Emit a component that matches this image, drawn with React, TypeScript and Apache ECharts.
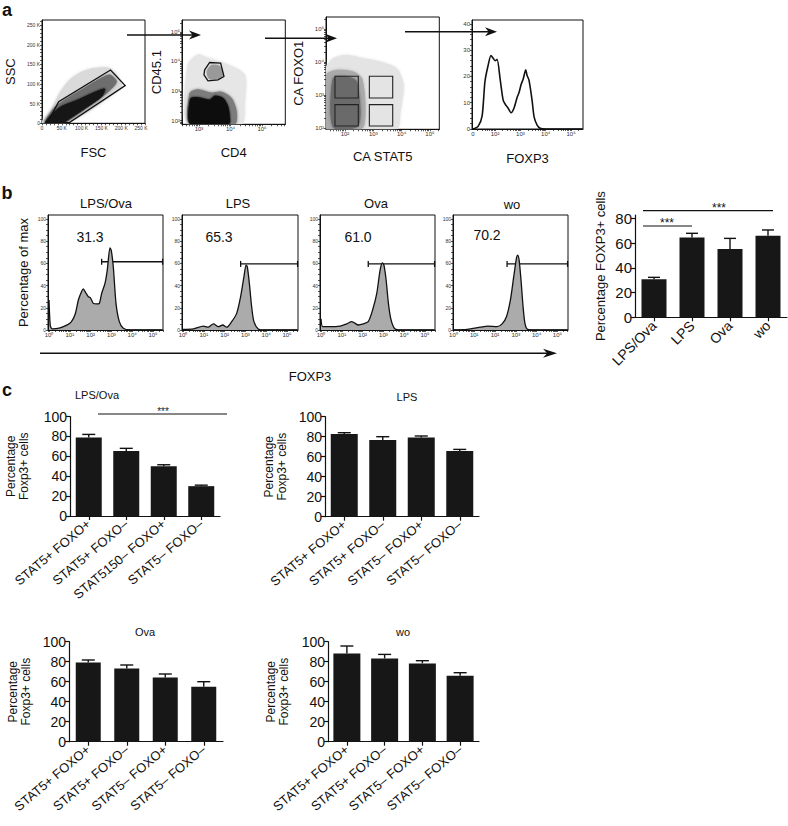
import React, { useEffect, useRef } from "react";
import * as echarts from "echarts";

const FONT = "'Liberation Sans', Arial, Helvetica, sans-serif";
const INK = "#111111";
const BAR_COLOR = "#171717";
const HIST_FILL = "#ababab";

// ================= Panel a (flow gating) =================
const fscLabelsK = [0, 50, 100, 150, 200, 250];
const fscSscSparse = [[0, 0], [23.6, 33.9], [44.6, 76.5], [69.9, 110.5], [99.3, 130.1], [133, 140.2], [170.9, 140.2], [192, 119], [200.4, 93.5], [170.9, 68], [116.2, 29.7], [74.1, 5.9], [57.2, 0]];
const fscSscMid = [[8.4, 0], [30.3, 38.2], [57.2, 59.5], [99.3, 85], [141.4, 110.5], [170.9, 123.2], [187.7, 106.2], [166.7, 80.7], [116.2, 42.5], [74.1, 12.7], [53, 0]];
const fscSscCore = [[8.4, 0], [27.8, 25.5], [48.8, 42.5], [90.9, 59.5], [133, 79], [158.3, 87.5], [149.8, 68], [107.8, 38.2], [69.9, 12.7], [48.8, 0]];
const lymphocyteGate = [[13.4, 0.8], [42, 55], [173, 136], [210, 96], [70, 2.5]];

const cd4Sparse = [[2.65, 1.888], [2.65, 3.888], [2.968, 4.225], [3.285, 4.112], [3.92, 3.888], [4.449, 3.551], [4.449, 2.652], [4.343, 1.888]];
const cd4Mid = [[2.714, 1.888], [2.714, 2.933], [2.968, 3.045], [3.391, 2.933], [3.708, 2.967], [4.026, 2.764], [4.185, 2.315], [4.132, 1.888]];
const cd4Core = [[2.735, 1.888], [2.735, 2.74], [2.968, 2.78], [3.338, 2.7], [3.497, 2.83], [3.761, 2.76], [3.9, 2.52], [3.96, 2.202], [3.94, 1.888]];
const cd45Cluster = [[3.264, 3.663], [3.391, 3.865], [3.656, 3.832], [3.73, 3.494], [3.338, 3.416]];
const cd45Gate = [[3.179, 3.719], [3.338, 3.966], [3.687, 3.944], [3.793, 3.494], [3.603, 3.382], [3.285, 3.348], [3.158, 3.551]];

const stat5Sparse = [[1.329, 1.98], [1.329, 3.798], [1.588, 4.101], [2.059, 4.202], [2.648, 4.101], [3.237, 4.0], [3.826, 3.798], [4.061, 3.293], [3.944, 2.485], [3.826, 1.98]];
const stat5Mid = [[1.329, 1.98], [1.329, 3.596], [1.706, 3.747], [2.295, 3.697], [2.589, 3.495], [2.707, 2.687], [2.589, 1.98]];
const stat5Core = [[1.588, 2.03], [1.588, 3.495], [2.059, 3.545], [2.412, 3.394], [2.471, 2.081]];
// [x0, y0, x1, y1] in log10 units
const stat5FoxoGates = [[1.647, 2.909, 2.47, 3.567], [1.647, 2.06, 2.47, 2.706], [2.86, 2.909, 3.685, 3.567], [2.86, 2.06, 3.685, 2.706]];

const foxp3Histogram = [[1.12, 0], [1.33, 1], [1.49, 5], [1.6, 18], [1.72, 24], [1.84, 28], [1.92, 27], [2.0, 26], [2.08, 26.5], [2.2, 19], [2.32, 11], [2.43, 9], [2.51, 8], [2.63, 6.2], [2.75, 8], [2.87, 12], [2.95, 14], [3.03, 17], [3.11, 19], [3.21, 22.5], [3.26, 20.5], [3.34, 18.5], [3.46, 11], [3.54, 4.6], [3.66, 1.5], [3.78, 0.3], [3.98, 0], [5.45, 0]];

// ================= Panel b =================
const conditions = ["LPS/Ova", "LPS", "Ova", "wo"];
const histLpsOva = [[0, 27], [0.06, 4], [0.15, 1], [0.53, 2], [1.0, 6], [1.25, 14], [1.41, 27], [1.57, 35], [1.65, 37], [1.75, 34], [1.89, 30], [1.99, 29], [2.13, 24], [2.29, 23.5], [2.42, 24], [2.53, 33], [2.69, 42], [2.8, 54], [2.93, 74], [2.99, 72], [3.09, 57], [3.22, 24], [3.38, 7.5], [3.57, 1.5], [3.9, 0], [5.45, 0]];
const histLps = [[0, 0.5], [0.5, 1], [0.98, 3.5], [1.2, 2.5], [1.46, 5.5], [1.7, 3], [1.91, 4.5], [2.1, 2.5], [2.34, 7.5], [2.58, 15], [2.77, 30], [2.93, 48], [3.03, 58.5], [3.09, 57], [3.19, 42], [3.3, 21], [3.41, 7.5], [3.62, 1], [3.9, 0], [5.5, 0]];
const histOva = [[0, 10], [0.08, 3], [0.43, 3], [0.91, 3.5], [1.24, 5.5], [1.47, 7.5], [1.6, 6.5], [1.79, 4.5], [2.03, 5.5], [2.27, 7.5], [2.48, 18], [2.68, 33], [2.84, 54], [2.95, 60.5], [3.03, 58], [3.13, 45], [3.24, 24], [3.35, 10.5], [3.48, 3], [3.6, 0.5], [3.9, 0], [5.45, 0]];
const histWo = [[0, 0], [0.66, 0.5], [1.3, 2.5], [1.65, 3.5], [2.1, 3], [2.34, 5.5], [2.55, 12], [2.74, 27], [2.9, 48], [3.03, 64.5], [3.09, 67.5], [3.16, 63], [3.25, 45], [3.35, 21], [3.44, 6], [3.57, 0.5], [3.9, 0], [5.5, 0]];
const histograms = [histLpsOva, histLps, histOva, histWo];
const gateStart = [2.53, 2.77, 2.27, 2.58];
const gateEnd = [5.46, 5.51, 5.46, 5.49];
const gateLevel = [61.5, 59.5, 59.5, 59.5];
const gatePercent = ["31.3", "65.3", "61.0", "70.2"];

const foxp3Mean = [30.7, 64.6, 55.2, 66];
const foxp3ErrTop = [32.3, 67.9, 63.8, 70.6];

// ================= Panel c =================
const subsetsLpsOva = ["STAT5+ FOXO+", "STAT5+ FOXO–", "STAT5150– FOXO+", "STAT5– FOXO–"];
const subsets = ["STAT5+ FOXO+", "STAT5+ FOXO–", "STAT5– FOXO+", "STAT5– FOXO–"];
const lpsOvaMean = [79, 65.3, 50, 30];
const lpsOvaErr = [82, 68, 51.5, 31];
const lpsMean = [82.7, 76.7, 79.3, 65.7];
const lpsErr = [84, 80, 80.7, 67.3];
const ovaMean = [79.3, 73.3, 64.3, 55];
const ovaErr = [81.7, 76.7, 67.7, 60];
const woMean = [88.3, 83.3, 78.3, 66];
const woErr = [95.7, 87.3, 81, 69];

// ================= layout =================
const GRIDS = [
  { left: 42, top: 20, width: 103, height: 103.3 }, // 0 a FSC/SSC
  { left: 182, top: 20, width: 103.3, height: 104.3 }, // 1 a CD4/CD45.1
  { left: 326, top: 17, width: 113.3, height: 112.3 }, // 2 a STAT5/FOXO1
  { left: 472, top: 20, width: 111, height: 109 }, // 3 a FOXP3 hist
  { left: 48, top: 215, width: 115, height: 115 }, // 4 b hist
  { left: 182, top: 215, width: 116, height: 115 }, // 5
  { left: 320, top: 215, width: 115, height: 115 }, // 6
  { left: 453, top: 215, width: 115, height: 115 }, // 7
  { left: 635, top: 215, width: 152, height: 102.3 }, // 8 b bar
  { left: 70, top: 416.5, width: 150, height: 99.5 }, // 9 c LPS/Ova
  { left: 325, top: 416.7, width: 154, height: 100 }, // 10 c LPS
  { left: 69, top: 641.7, width: 154, height: 100 }, // 11 c Ova
  { left: 328, top: 641.7, width: 151, height: 100 }, // 12 c wo
];
const BOXED = [0, 1, 2, 3, 4, 5, 6, 7];
const histXRange = [[-0.05, 5.48], [-0.05, 5.53], [-0.05, 5.48], [-0.02, 5.51]];

const SUP = ["⁰", "¹", "²", "³", "⁴", "⁵", "⁶"];
const expFmt = (v: number) => "10" + SUP[Math.round(v)];
const kFmt = (v: number) => (v === 0 ? "0" : `${v} K`);

function steps(a: number, b: number, s: number) {
  const r: number[] = [];
  for (let v = a; v <= b + 1e-9; v += s) r.push(+v.toFixed(4));
  return r;
}
function logTicks(min: number, max: number) {
  const out: number[] = [];
  for (let n = Math.floor(min); n <= Math.ceil(max); n++) {
    for (let k = 1; k <= 9; k++) {
      const v = n + Math.log10(k);
      if (v >= min - 1e-9 && v <= max + 1e-9) out.push(+v.toFixed(4));
    }
  }
  return out;
}

function valueAxis(gridIndex: number, min: number, max: number, labelVals: number[], tickVals: number[], fmt: any, fontSize: number, extra: any = {}) {
  return {
    type: "value",
    gridIndex,
    min,
    max,
    axisLine: { show: true, onZero: false, lineStyle: { color: INK, width: 1 } },
    axisTick: { show: true, length: 2, customValues: tickVals, lineStyle: { color: INK, width: 0.7 } },
    axisLabel: { show: true, customValues: labelVals, formatter: fmt, fontSize, margin: 2, color: "#333", fontFamily: FONT },
    splitLine: { show: false },
    nameLocation: "middle",
    nameTextStyle: { fontFamily: FONT, fontSize: 13, color: INK },
    ...extra,
  };
}

function barXAxis(gridIndex: number, cats: string[], fontSize: number, rotate: number) {
  return {
    type: "category",
    gridIndex,
    data: cats,
    axisLine: { show: true, lineStyle: { color: INK, width: 1.2 } },
    axisTick: { show: true, alignWithLabel: true, length: 4, lineStyle: { color: INK, width: 1.2 } },
    axisLabel: { interval: 0, rotate, fontSize, margin: 6, color: INK, fontFamily: FONT },
    splitLine: { show: false },
  };
}
function barYAxis(gridIndex: number, max: number, labels: number[], fontSize: number, name: string, nameGap: number, nameSize: number) {
  return {
    type: "value",
    gridIndex,
    min: 0,
    max,
    axisLine: { show: true, lineStyle: { color: INK, width: 1.2 } },
    axisTick: { show: true, length: 4, customValues: labels, lineStyle: { color: INK, width: 1.2 } },
    axisLabel: { customValues: labels, fontSize, margin: 3, color: INK, fontFamily: FONT },
    splitLine: { show: false },
    name,
    nameLocation: "middle",
    nameGap,
    nameTextStyle: { fontFamily: FONT, fontSize: nameSize, color: INK, lineHeight: nameSize + 1 },
  };
}

function polygonSeries(grid: number, pts: number[][], fill: string, stroke = "none", lineWidth = 0, blur = 0) {
  return {
    type: "custom",
    xAxisIndex: grid,
    yAxisIndex: grid,
    silent: true,
    clip: true,
    data: [pts[0]],
    renderItem: (_p: any, api: any) => ({
      type: "polygon",
      shape: { points: pts.map((p) => api.coord(p)), smooth: blur ? 0.25 : 0 },
      style: blur
        ? { fill, stroke: fill, lineWidth: 1, shadowBlur: blur, shadowColor: fill, shadowOffsetX: 0, shadowOffsetY: 0 }
        : { fill, stroke, lineWidth },
    }),
  };
}

function rectGateSeries(grid: number, boxes: number[][]) {
  return {
    type: "custom",
    xAxisIndex: grid,
    yAxisIndex: grid,
    silent: true,
    data: boxes,
    renderItem: (_p: any, api: any) => {
      const a = api.coord([api.value(0), api.value(1)]);
      const b = api.coord([api.value(2), api.value(3)]);
      return {
        type: "rect",
        shape: { x: Math.min(a[0], b[0]), y: Math.min(a[1], b[1]), width: Math.abs(b[0] - a[0]), height: Math.abs(b[1] - a[1]) },
        style: { fill: "none", stroke: "#222", lineWidth: 1.1 },
      };
    },
  };
}

function histSeries(grid: number, data: number[][], filled: boolean) {
  return {
    type: "line",
    xAxisIndex: grid,
    yAxisIndex: grid,
    data,
    symbol: "none",
    smooth: 0.25,
    silent: true,
    lineStyle: { color: INK, width: filled ? 1.3 : 1.6 },
    areaStyle: filled ? { color: HIST_FILL, opacity: 1 } : undefined,
  };
}

function gateSeries(grid: number, k: number) {
  return {
    type: "custom",
    xAxisIndex: grid,
    yAxisIndex: grid,
    silent: true,
    data: [[gateStart[k], gateEnd[k], gateLevel[k]]],
    renderItem: (_p: any, api: any) => {
      const a = api.coord([api.value(0), api.value(2)]);
      const b = api.coord([api.value(1), api.value(2)]);
      const st = { stroke: INK, lineWidth: 1.3 };
      return {
        type: "group",
        children: [
          { type: "line", shape: { x1: a[0], y1: a[1], x2: b[0], y2: b[1] }, style: st },
          { type: "line", shape: { x1: a[0], y1: a[1] - 3, x2: a[0], y2: a[1] + 3 }, style: st },
          { type: "line", shape: { x1: b[0], y1: b[1] - 3, x2: b[0], y2: b[1] + 3 }, style: st },
        ],
      };
    },
  };
}

function barSeries(grid: number, values: number[], width: number) {
  return {
    type: "bar",
    xAxisIndex: grid,
    yAxisIndex: grid,
    data: values,
    barWidth: width,
    silent: true,
    itemStyle: { color: BAR_COLOR },
  };
}
function errorSeries(grid: number, means: number[], tops: number[], half: number) {
  return {
    type: "custom",
    xAxisIndex: grid,
    yAxisIndex: grid,
    silent: true,
    z: 5,
    data: means.map((m, i) => [i, m, tops[i]]),
    renderItem: (_p: any, api: any) => {
      const p0 = api.coord([api.value(0), api.value(1)]);
      const p1 = api.coord([api.value(0), api.value(2)]);
      const st = { stroke: INK, lineWidth: 1.4 };
      return {
        type: "group",
        children: [
          { type: "line", shape: { x1: p0[0], y1: p0[1], x2: p1[0], y2: p1[1] }, style: st },
          { type: "line", shape: { x1: p1[0] - half, y1: p1[1], x2: p1[0] + half, y2: p1[1] }, style: st },
        ],
      };
    },
  };
}

// ---------- graphic helpers ----------
function txt(x: number, y: number, text: string, size: number, extra: any = {}) {
  return {
    type: "text",
    x,
    y,
    silent: true,
    style: {
      text,
      fontSize: size,
      fontFamily: FONT,
      fill: INK,
      align: "center",
      verticalAlign: "middle",
      textAlign: "center",
      textVerticalAlign: "middle",
      ...extra,
    },
  };
}
function arrow(x1: number, y: number, x2: number, head = 12, hw = 4.5, lw = 1.5) {
  return [
    { type: "line", silent: true, shape: { x1, y1: y, x2: x2 - head * 0.6, y2: y }, style: { stroke: INK, lineWidth: lw } },
    { type: "polygon", silent: true, shape: { points: [[x2, y], [x2 - head, y - hw], [x2 - head * 0.7, y], [x2 - head, y + hw]] }, style: { fill: INK } },
  ];
}
function hline(x1: number, x2: number, y: number, lw = 1.2) {
  return { type: "line", silent: true, shape: { x1, y1: y, x2, y2: y }, style: { stroke: INK, lineWidth: lw } };
}

function buildOption() {
  const grid = GRIDS.map((g, i) => ({
    ...g,
    show: BOXED.includes(i),
    borderColor: INK,
    borderWidth: 1,
    backgroundColor: "transparent",
    containLabel: false,
  }));

  const xAxis: any[] = [
    valueAxis(0, 0, 260, fscLabelsK, steps(0, 260, 10), kFmt, 5, { name: "FSC", nameGap: 23 }),
    valueAxis(1, 2.46, 5.74, [3, 4, 5], logTicks(2.46, 5.74), expFmt, 6, { name: "CD4", nameGap: 22 }),
    valueAxis(2, 1.33, 5.33, [2, 3, 4, 5], logTicks(1.33, 5.33), expFmt, 6, { name: "CA STAT5", nameGap: 21 }),
    valueAxis(3, 1.09, 5.47, [1.13, 2, 3, 4, 5], logTicks(1.09, 5.47), (v: number) => (v < 1.5 ? "0" : expFmt(v)), 6, { name: "FOXP3", nameGap: 23 }),
    ...histXRange.map((r, k) => valueAxis(4 + k, r[0], r[1], [0, 1, 2, 3, 4, 5], logTicks(r[0], r[1]), expFmt, 6)),
    barXAxis(8, conditions, 14, 45),
    barXAxis(9, subsetsLpsOva, 13, 40),
    barXAxis(10, subsets, 13, 40),
    barXAxis(11, subsets, 13, 40),
    barXAxis(12, subsets, 13, 40),
  ];

  const pct = [0, 20, 40, 60, 80, 100];
  const yAxis: any[] = [
    valueAxis(0, 0, 263.5, fscLabelsK, steps(0, 260, 10), kFmt, 5, { name: "SSC", nameGap: 25.5 }),
    valueAxis(1, 1.88, 5.4, [2, 3, 4, 5], logTicks(1.88, 5.4), expFmt, 6, { name: "CD45.1", nameGap: 19 }),
    valueAxis(2, 1.96, 5.36, [2, 3, 4, 5], logTicks(1.96, 5.36), expFmt, 6, { name: "CA FOXO1", nameGap: 21 }),
    valueAxis(3, 0, 41.5, [0, 10, 20, 30, 40], steps(0, 40, 2), (v: number) => String(v), 6),
    ...[0, 1, 2, 3].map((k) =>
      valueAxis(4 + k, 0, 103.6, pct, steps(0, 100, 5), (v: number) => String(v), 5, k === 0 ? { name: "Percentage of max", nameGap: 18.5 } : {})
    ),
    barYAxis(8, 82.7, [0, 20, 40, 60, 80], 15, "Percentage FOXP3+ cells", 28, 13),
    barYAxis(9, 100, pct, 14, "Percentage\nFoxp3+ cells", 40, 12),
    barYAxis(10, 100, pct, 14, "Percentage\nFoxp3+ cells", 37, 12),
    barYAxis(11, 100, pct, 14, "Percentage\nFoxp3+ cells", 37, 12),
    barYAxis(12, 100, pct, 14, "Percentage\nFoxp3+ cells", 38, 12),
  ];

  const series: any[] = [
    // a1
    polygonSeries(0, fscSscSparse, "#dadada", "none", 0, 3),
    polygonSeries(0, fscSscMid, "#6e6e6e", "none", 0, 3),
    polygonSeries(0, fscSscCore, "#141414", "none", 0, 2),
    polygonSeries(0, lymphocyteGate, "none", INK, 1.3),
    // a2
    polygonSeries(1, cd4Sparse, "#e6e6e6", "none", 0, 3),
    polygonSeries(1, cd4Mid, "#7c7c7c", "none", 0, 3),
    polygonSeries(1, cd4Core, "#0e0e0e", "none", 0, 2),
    polygonSeries(1, cd45Cluster, "#999999", "none", 0, 2),
    polygonSeries(1, cd45Gate, "none", INK, 1.3),
    // a3
    polygonSeries(2, stat5Sparse, "#e4e4e4", "none", 0, 3),
    polygonSeries(2, stat5Mid, "#aaaaaa", "none", 0, 3),
    polygonSeries(2, stat5Core, "#6a6a6a", "none", 0, 3),
    rectGateSeries(2, stat5FoxoGates),
    // a4
    histSeries(3, foxp3Histogram, false),
    // b
    ...histograms.map((h, k) => histSeries(4 + k, h, true)),
    ...[0, 1, 2, 3].map((k) => gateSeries(4 + k, k)),
    barSeries(8, foxp3Mean, 25),
    errorSeries(8, foxp3Mean, foxp3ErrTop, 6),
    // c
    barSeries(9, lpsOvaMean, 26),
    errorSeries(9, lpsOvaMean, lpsOvaErr, 6.5),
    barSeries(10, lpsMean, 27),
    errorSeries(10, lpsMean, lpsErr, 6.5),
    barSeries(11, ovaMean, 25),
    errorSeries(11, ovaMean, ovaErr, 6.5),
    barSeries(12, woMean, 27),
    errorSeries(12, woMean, woErr, 6.5),
  ];

  const graphic: any[] = [
    txt(7, 10, "a", 18, { fontWeight: "bold" }),
    txt(7, 193, "b", 18, { fontWeight: "bold" }),
    txt(7, 390, "c", 18, { fontWeight: "bold" }),
    ...arrow(127, 35, 201),
    ...arrow(265, 38.3, 337),
    ...arrow(405, 31.7, 497),
    // panel b titles & percentages
    txt(106, 203, "LPS/Ova", 13),
    txt(238, 203, "LPS", 13),
    txt(376, 203, "Ova", 13),
    txt(512, 204, "wo", 13),
    txt(90, 237, gatePercent[0], 14),
    txt(219, 237, gatePercent[1], 14),
    txt(358, 237, gatePercent[2], 14),
    txt(487, 235, gatePercent[3], 14),
    ...arrow(40, 353.3, 557, 14, 4.5, 1.4),
    txt(310, 376, "FOXP3", 13),
    // panel b bar significance
    hline(643, 692, 226),
    txt(667, 223, "***", 12),
    hline(643, 773, 210.7),
    txt(719, 207.5, "***", 12),
    // panel c titles
    txt(97, 395, "LPS/Ova", 11),
    txt(407, 397, "LPS", 11),
    txt(145, 632, "Ova", 11),
    txt(403, 632, "wo", 11),
    hline(98, 227, 414, 1),
    txt(163, 411, "***", 10, { fill: "#222" }),
  ];

  return {
    animation: false,
    backgroundColor: "#ffffff",
    textStyle: { fontFamily: FONT },
    grid,
    xAxis,
    yAxis,
    series,
    graphic,
  };
}

export default function App() {
  const ref = useRef<HTMLDivElement>(null);
  useEffect(() => {
    if (!ref.current) return;
    const chart = echarts.init(ref.current, null, { renderer: "svg", width: 788, height: 826 });
    chart.setOption(buildOption() as any);
    return () => chart.dispose();
  }, []);
  return <div ref={ref} style={{ position: "absolute", left: 0, top: 0, width: 788, height: 826, background: "#fff" }} />;
}
